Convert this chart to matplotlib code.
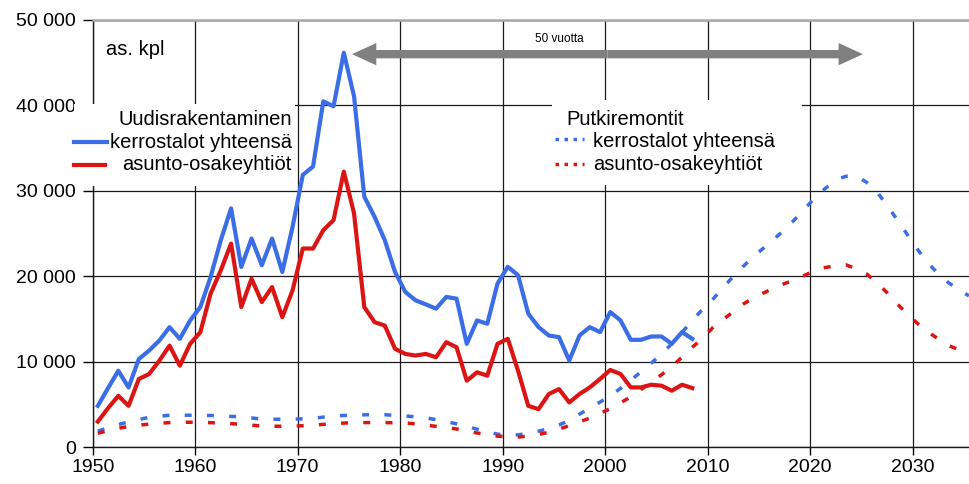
import numpy as np
import matplotlib
matplotlib.use("Agg")
import matplotlib.pyplot as plt
from matplotlib.patches import Rectangle, FancyArrowPatch

# ---------------- data ----------------
years_new = list(range(1950, 2009))
kerros_new = [4820, 6900, 8930, 6970, 10300, 11290, 12460, 14030, 12660, 14800,
              16380, 19900, 24220, 27940, 21080, 24410, 21280, 24410, 20490, 25780,
              31860, 32840, 40480, 39890, 46160, 41070, 29310, 26960, 24220, 20500,
              18160, 17180, 16700, 16200, 17570, 17370, 12080, 14820, 14430, 19140,
              21100, 20120, 15610, 14040, 13060, 12860, 10120, 13060, 14040, 13450,
              15800, 14820, 12550, 12550, 12940, 12940, 12080, 13450, 12670]
aso_new = [2980, 4550, 6000, 4820, 7960, 8540, 10110, 11870, 9520, 12070,
           13440, 17950, 20690, 23820, 16380, 19710, 16970, 18730, 15200, 18340,
           23240, 23240, 25390, 26570, 32250, 27350, 16380, 14620, 14220, 11500,
           10900, 10710, 10900, 10510, 12270, 11690, 7760, 8750, 8350, 12080,
           12670, 8940, 4820, 4430, 6200, 6780, 5220, 6200, 6980, 7960,
           9020, 8550, 6980, 6980, 7290, 7180, 6590, 7290, 6900]

years_remont = list(range(1950, 2036))
kerros_remont = [1850, 2250, 2620, 2950, 3220, 3470, 3600, 3720, 3720, 3720,
                 3710, 3690, 3650, 3590, 3520, 3400, 3260, 3250, 3250, 3260,
                 3300, 3350, 3500, 3640, 3690, 3740, 3770, 3780, 3780, 3700,
                 3640, 3530, 3420, 3200, 2980, 2710, 2400, 2090, 1780, 1500,
                 1400, 1420, 1630, 1850, 2160, 2570, 3110, 3850, 4560, 5260,
                 6010, 6860, 7810, 8810, 9820, 10870, 12100, 13420, 14800, 16130,
                 17280, 18660, 19970, 21180, 22330, 23340, 24370, 25430, 26640, 27920,
                 29230, 30300, 31260, 31700, 31750, 31000, 29930, 28290, 26600, 24850,
                 23110, 21520, 20300, 19240, 18410, 17700]
aso_remont = [1600, 1920, 2200, 2400, 2550, 2680, 2770, 2860, 2880, 2900,
              2880, 2850, 2800, 2730, 2660, 2560, 2450, 2430, 2430, 2450,
              2490, 2550, 2650, 2740, 2800, 2850, 2860, 2860, 2860, 2840,
              2820, 2700, 2560, 2420, 2290, 2110, 1880, 1640, 1440, 1270,
              1210, 1160, 1290, 1470, 1720, 2090, 2510, 2940, 3380, 3920,
              4500, 5180, 5860, 6720, 7590, 8460, 9410, 10520, 11670, 12700,
              13970, 14920, 15830, 16750, 17490, 18060, 18640, 19130, 19590, 20120,
              20680, 21020, 21230, 21330, 20860, 20280, 19260, 18080, 16760, 15540,
              14450, 13480, 12660, 11880, 11400, 10950]

x_ticks = [1950, 1960, 1970, 1980, 1990, 2000, 2010, 2020, 2030]
y_ticks = [0, 10000, 20000, 30000, 40000, 50000]
y_tick_labels = ["0", "10 000", "20 000", "30 000", "40 000", "50 000"]

legend_left_title = "Uudisrakentaminen"
legend_right_title = "Putkiremontit"
series_names = ["kerrostalot yhteensä", "asunto-osakeyhtiöt"]
unit_label = "as. kpl"
arrow_label = "50 vuotta"
arrow_start, arrow_end, arrow_level = 1975.3, 2025.15, 46000

# ---------------- style ----------------
plt.rcParams['font.family'] = ['Liberation Sans', 'DejaVu Sans']
BLUE = '#3a6de6'
RED = '#dd1414'
W, H = 970, 484
FS = 14.5

fig = plt.figure(figsize=(W / 100, H / 100), dpi=100)
ax = fig.add_axes([92.7 / W, 1 - 447 / H, (W - 92.7) / W, (447 - 20) / H])


def fp(x, y):
    return (x / W, 1 - y / H)


off = 0.5  # points sit in the middle of each year
xn = np.array(years_new) + off
xr = np.array(years_remont) + off

ax.plot(xn, kerros_new, color=BLUE, lw=3.0, zorder=5, solid_joinstyle='round')
ax.plot(xn, aso_new, color=RED, lw=3.0, zorder=5, solid_joinstyle='round')
dash = (0, (2.0, 4.4))
ax.plot(xr, kerros_remont, color=BLUE, lw=2.5, ls=dash, zorder=4, dash_capstyle='butt')
ax.plot(xr, aso_remont, color=RED, lw=2.5, ls=dash, zorder=4, dash_capstyle='butt')

ax.set_xlim(1950, 2035.6)
ax.set_ylim(0, 50000)
ax.set_xticks(x_ticks)
ax.set_xticklabels([str(v) for v in x_ticks])
ax.set_yticks(y_ticks)
ax.set_yticklabels(y_tick_labels)
ax.tick_params(axis='x', direction='out', length=6, width=1.0, pad=3, labelsize=14)
ax.tick_params(axis='y', direction='out', length=7, width=1.0, pad=5, labelsize=14)

ax.set_axisbelow(True)
ax.grid(True, color='#1a1a1a', lw=0.9)
ax.spines['right'].set_visible(False)
ax.spines['top'].set_color('#a8a8a8')
ax.spines['top'].set_linewidth(1.8)
for s in ['left', 'bottom']:
    ax.spines[s].set_linewidth(1.0)
    ax.spines[s].set_color('#1a1a1a')

# legend boxes (white)
for (x0, y0, x1, y1) in [(74, 104, 295, 186), (552, 100, 802, 185)]:
    r = Rectangle(fp(x0, y1), (x1 - x0) / W, (y1 - y0) / H, transform=fig.transFigure,
                  facecolor='white', edgecolor='none', zorder=3, clip_on=False)
    ax.add_artist(r)

tf = fig.transFigure
# left legend
ax.text(*fp(292, 125), legend_left_title, transform=tf, ha='right', va='baseline',
        fontsize=FS, zorder=6)
ax.text(*fp(292, 148), series_names[0], transform=tf, ha='right', va='baseline',
        fontsize=FS, zorder=6)
ax.text(*fp(292, 170), series_names[1], transform=tf, ha='right', va='baseline',
        fontsize=FS, zorder=6)
ax.plot([74 / W, 107 / W], [1 - 142 / H] * 2, transform=tf, color=BLUE, lw=3.0,
        clip_on=False, zorder=6)
ax.plot([74 / W, 105 / W], [1 - 165 / H] * 2, transform=tf, color=RED, lw=3.0,
        clip_on=False, zorder=6)

# right legend
ax.text(*fp(566, 125), legend_right_title, transform=tf, ha='left', va='baseline',
        fontsize=FS, zorder=6)
ax.text(*fp(593, 147), series_names[0], transform=tf, ha='left', va='baseline',
        fontsize=FS, zorder=6)
ax.text(*fp(593, 170), series_names[1], transform=tf, ha='left', va='baseline',
        fontsize=FS, zorder=6)
ax.plot([555 / W, 584 / W], [1 - 139 / H] * 2, transform=tf, color=BLUE, lw=2.5,
        ls=(0, (1.0, 1.6)), clip_on=False, zorder=6)
ax.plot([555 / W, 584 / W], [1 - 164 / H] * 2, transform=tf, color=RED, lw=2.5,
        ls=(0, (1.0, 1.6)), clip_on=False, zorder=6)

# unit label
ax.text(*fp(106, 55), unit_label, transform=tf, ha='left', va='baseline',
        fontsize=FS, zorder=6)

# 50-year arrow
mid = (arrow_start + arrow_end) / 2
for end in (arrow_start, arrow_end):
    a = FancyArrowPatch((mid, arrow_level), (end, arrow_level),
                        arrowstyle='simple,head_length=1.75,head_width=1.6,tail_width=0.6',
                        mutation_scale=10, color='#808080', lw=0, zorder=6,
                        shrinkA=0, shrinkB=0)
    ax.add_patch(a)
ax.text(*fp(559, 41.5), arrow_label, transform=tf, ha='center', va='baseline',
        fontsize=8.5, zorder=6)

fig.savefig('out.png', dpi=100)
